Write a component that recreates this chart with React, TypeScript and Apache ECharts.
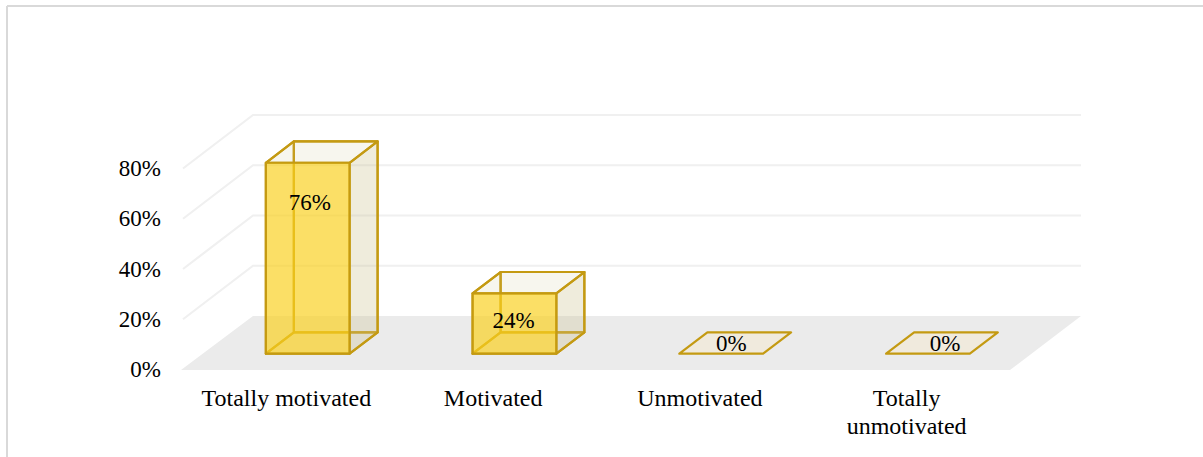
import React, { useEffect, useRef } from "react";
import * as echarts from "echarts";

const categories = ["Totally motivated", "Motivated", "Unmotivated", "Totally\nunmotivated"];
const shares = [76, 24, 0, 0];
const wallTicks = [20, 40, 60, 80];

// Oblique projection of the box: how far the floor recedes, in pixels.
const DEPTH_X = 70;
const DEPTH_Y = -53.5;
const BAR_NEAR_X = 0.305;
const BAR_NEAR_Y = 0.295;
const BAR_THICKNESS = 0.4;
const BAR_WIDTH_RATIO = 0.405;

const FONT = '"Liberation Serif", "Times New Roman", serif';
const FONT_SIZE = 23;
const CATEGORY_FONT_SIZE = 24;
const INK = "#000000";
const GOLD = "#c49a12";

// Nudges for the value labels, measured from each bar's own centre.
const labelNudge = [
  [2, -56],
  [-1, -3.5],
  [-18, 0],
  [-11, 0],
];

function renderWallLine(params: any, api: any) {
  const base = api.coord([0, api.value(1)]);
  const left = params.coordSys.x;
  const right = left + params.coordSys.width;
  return {
    type: "polyline",
    silent: true,
    shape: {
      points: [
        [left, base[1]],
        [left + DEPTH_X, base[1] + DEPTH_Y],
        [right + DEPTH_X + 1, base[1] + DEPTH_Y],
      ],
    },
    style: { fill: "none", stroke: "#f0f0f0", lineWidth: 2.2 },
  };
}

function renderFloor(params: any, api: any) {
  const floorY = api.coord([0, 0])[1];
  const left = params.coordSys.x;
  const right = left + params.coordSys.width;
  return {
    type: "polygon",
    silent: true,
    shape: {
      points: [
        [left - 2, floorY + 0.5],
        [left + DEPTH_X, floorY + DEPTH_Y],
        [right + DEPTH_X + 1, floorY + DEPTH_Y],
        [right, floorY + 0.5],
      ],
    },
    style: { fill: "#ebebeb" },
  };
}

function renderBar(params: any, api: any) {
  const index = api.value(0);
  const value = api.value(1);
  const base = api.coord([index, 0]);
  const top = api.coord([index, value]);
  const width = api.size([1, 0])[0] * BAR_WIDTH_RATIO;

  const nearX = base[0] + DEPTH_X * BAR_NEAR_X - width / 2;
  const nearBottom = base[1] + DEPTH_Y * BAR_NEAR_Y;
  const nearTop = top[1] + DEPTH_Y * BAR_NEAR_Y;
  const dx = DEPTH_X * BAR_THICKNESS;
  const dy = DEPTH_Y * BAR_THICKNESS;

  const face = (pts: number[][], fill: string) => ({
    type: "polygon",
    silent: true,
    shape: { points: pts },
    style: { fill, stroke: GOLD, lineWidth: 2.2, lineJoin: "round" },
  });

  const a = [nearX, nearBottom];
  const b = [nearX + width, nearBottom];
  const c = [nearX + width, nearTop];
  const d = [nearX, nearTop];
  const shift = (p: number[]) => [p[0] + dx, p[1] + dy];
  const tan = "rgba(205,193,146,";

  const children: any[] = [];
  if (value > 0) {
    children.push(face([shift(a), shift(b), shift(c), shift(d)], tan + "0.05)"));
    children.push(face([a, shift(a), shift(d), d], tan + "0.05)"));
    children.push(face([a, b, shift(b), shift(a)], tan + "0.1)"));
    children.push(face([b, shift(b), shift(c), c], tan + "0.28)"));
    children.push(face([d, c, shift(c), shift(d)], tan + "0.1)"));
    children.push(face([a, b, c, d], "rgba(251,210,32,0.68)"));
  } else {
    // A zero share collapses to its base plate.
    children.push(face([a, b, shift(b), shift(a)], "rgba(243,233,211,0.6)"));
  }

  const nudge = labelNudge[params.dataIndex];
  children.push({
    type: "text",
    silent: true,
    style: {
      text: value + "%",
      x: nearX + width / 2 + nudge[0] + (value > 0 ? 0 : dx),
      y: (value > 0 ? (nearTop + nearBottom) / 2 : nearBottom + dy / 2) + nudge[1],
      align: "center",
      verticalAlign: "middle",
      font: `${FONT_SIZE}px ${FONT}`,
      fill: INK,
    },
  });
  return { type: "group", children };
}

export default function App() {
  const ref = useRef<HTMLDivElement>(null);

  useEffect(() => {
    const chart = echarts.init(ref.current!, undefined, { renderer: "svg" });
    chart.setOption({
      animation: false,
      backgroundColor: "#ffffff",
      grid: { left: 183, top: 168.5, width: 827, height: 201, containLabel: false },
      xAxis: {
        type: "category",
        data: categories,
        axisLine: { show: false },
        axisTick: { show: false },
        splitLine: { show: false },
        axisLabel: {
          interval: 0,
          margin: 14.5,
          hideOverlap: false,
          fontFamily: FONT,
          fontSize: CATEGORY_FONT_SIZE,
          lineHeight: 28,
          color: INK,
          verticalAlign: "top",
        },
      },
      yAxis: {
        type: "value",
        min: 0,
        max: 80,
        interval: 20,
        axisLine: { show: false },
        axisTick: { show: false },
        splitLine: { show: false },
        axisLabel: {
          margin: 22,
          formatter: "{value}%",
          fontFamily: FONT,
          fontSize: FONT_SIZE,
          color: INK,
          padding: [4, 0, 0, 0],
        },
      },
      graphic: [
        { type: "line", silent: true, shape: { x1: 7, y1: 6, x2: 1203, y2: 6 }, style: { stroke: "#d9d9d9", lineWidth: 2 } },
        { type: "line", silent: true, shape: { x1: 7, y1: 6, x2: 7, y2: 457 }, style: { stroke: "#d9d9d9", lineWidth: 2 } },
      ],
      series: [
        {
          type: "custom",
          name: "walls",
          z: 1,
          renderItem: renderWallLine,
          data: wallTicks.map((t) => [0, t]),
          encode: { x: 0, y: 1 },
          silent: true,
        },
        {
          type: "custom",
          name: "floor",
          z: 2,
          renderItem: renderFloor,
          data: [[0, 0]],
          encode: { x: 0, y: 1 },
          silent: true,
        },
        {
          type: "custom",
          name: "share",
          z: 3,
          renderItem: renderBar,
          data: shares.map((v, i) => [i, v]),
          encode: { x: 0, y: 1 },
          silent: true,
        },
      ],
    });
    return () => chart.dispose();
  }, []);

  return <div ref={ref} style={{ position: "absolute", left: 0, top: 0, width: 1203, height: 457 }} />;
}
